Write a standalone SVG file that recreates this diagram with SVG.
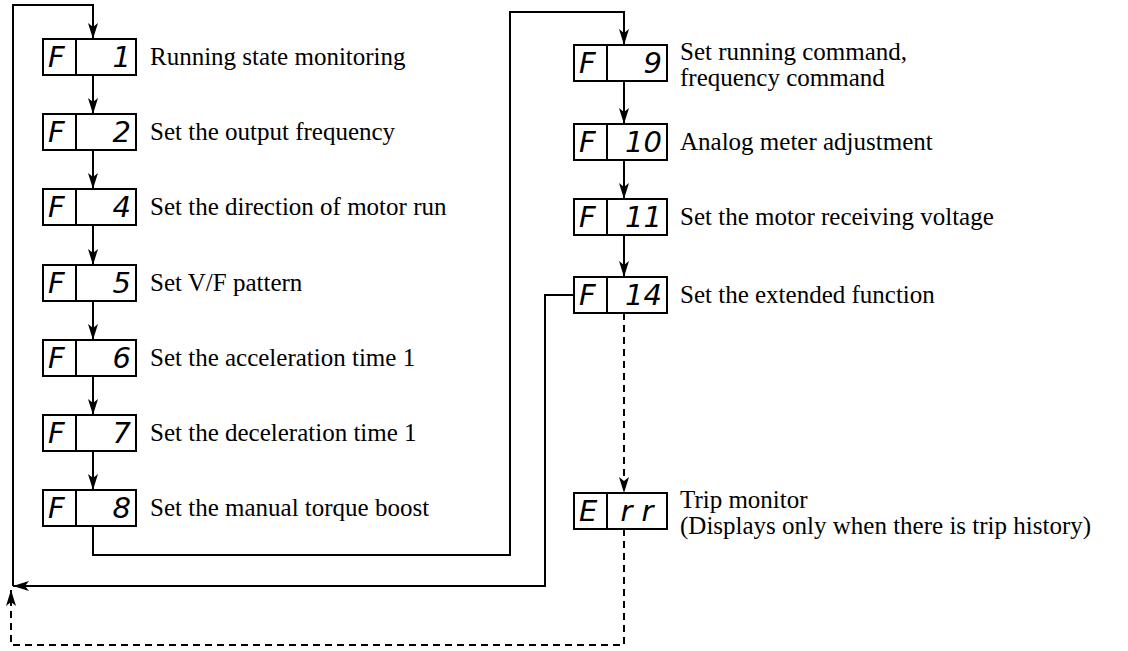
<svg xmlns="http://www.w3.org/2000/svg" width="1128" height="651" viewBox="0 0 1128 651">
<style>
.bx{fill:#fff;stroke:#000;stroke-width:2}
.dv{stroke:#000;stroke-width:2}
.seg{font-family:"DejaVu Sans",sans-serif;font-style:italic;font-weight:200;font-size:29px;fill:#000}
.lb{font-family:"Liberation Serif",serif;font-size:25px;fill:#000}
.ln{fill:none;stroke:#000;stroke-width:2}
.dash{fill:none;stroke:#000;stroke-width:2;stroke-dasharray:7 5}
</style>
<defs>
<marker id="ah" viewBox="0 0 16 10" refX="16" refY="5" markerWidth="16" markerHeight="10" orient="auto" markerUnits="userSpaceOnUse"><path d="M0,0 L16,5 L0,10 L4,5 z" fill="#000"/></marker>
</defs>
<rect width="1128" height="651" fill="#fff"/>
<g id="connectors">
<path class="ln" d="M13,586 V5 H93 V39" marker-end="url(#ah)"/>
<path class="ln" d="M93,75 V114" marker-end="url(#ah)"/>
<path class="ln" d="M93,150 V189" marker-end="url(#ah)"/>
<path class="ln" d="M93,225 V265" marker-end="url(#ah)"/>
<path class="ln" d="M93,301 V340" marker-end="url(#ah)"/>
<path class="ln" d="M93,376 V415" marker-end="url(#ah)"/>
<path class="ln" d="M93,451 V490" marker-end="url(#ah)"/>
<path class="ln" d="M93,526 V555 H510 V12 H624 V45" marker-end="url(#ah)"/>
<path class="ln" d="M624,81 V124" marker-end="url(#ah)"/>
<path class="ln" d="M624,160 V199" marker-end="url(#ah)"/>
<path class="ln" d="M624,235 V277" marker-end="url(#ah)"/>
<path class="ln" d="M574,295 H545 V586 H13" marker-end="url(#ah)"/>
<path class="dash" d="M624,313 V493" marker-end="url(#ah)"/>
<path class="dash" d="M624,529 V645 H11 V590" marker-end="url(#ah)"/>
</g>
<g id="node-F1"><rect class="bx" x="43" y="39" width="93" height="36"/><line class="dv" x1="76" y1="39" x2="76" y2="75"/><text class="seg" x="48" y="67">F</text><text class="seg" x="131" y="67" text-anchor="end">1</text><text class="lb" x="150" y="65">Running state monitoring</text></g>
<g id="node-F2"><rect class="bx" x="43" y="114" width="93" height="36"/><line class="dv" x1="76" y1="114" x2="76" y2="150"/><text class="seg" x="48" y="142">F</text><text class="seg" x="131" y="142" text-anchor="end">2</text><text class="lb" x="150" y="140">Set the output frequency</text></g>
<g id="node-F4"><rect class="bx" x="43" y="189" width="93" height="36"/><line class="dv" x1="76" y1="189" x2="76" y2="225"/><text class="seg" x="48" y="217">F</text><text class="seg" x="131" y="217" text-anchor="end">4</text><text class="lb" x="150" y="215">Set the direction of motor run</text></g>
<g id="node-F5"><rect class="bx" x="43" y="265" width="93" height="36"/><line class="dv" x1="76" y1="265" x2="76" y2="301"/><text class="seg" x="48" y="293">F</text><text class="seg" x="131" y="293" text-anchor="end">5</text><text class="lb" x="150" y="291">Set V/F pattern</text></g>
<g id="node-F6"><rect class="bx" x="43" y="340" width="93" height="36"/><line class="dv" x1="76" y1="340" x2="76" y2="376"/><text class="seg" x="48" y="368">F</text><text class="seg" x="131" y="368" text-anchor="end">6</text><text class="lb" x="150" y="366">Set the acceleration time 1</text></g>
<g id="node-F7"><rect class="bx" x="43" y="415" width="93" height="36"/><line class="dv" x1="76" y1="415" x2="76" y2="451"/><text class="seg" x="48" y="443">F</text><text class="seg" x="131" y="443" text-anchor="end">7</text><text class="lb" x="150" y="441">Set the deceleration time 1</text></g>
<g id="node-F8"><rect class="bx" x="43" y="490" width="93" height="36"/><line class="dv" x1="76" y1="490" x2="76" y2="526"/><text class="seg" x="48" y="518">F</text><text class="seg" x="131" y="518" text-anchor="end">8</text><text class="lb" x="150" y="516">Set the manual torque boost</text></g>
<g id="node-F9"><rect class="bx" x="574" y="45" width="93" height="36"/><line class="dv" x1="607" y1="45" x2="607" y2="81"/><text class="seg" x="579" y="73">F</text><text class="seg" x="662" y="73" text-anchor="end">9</text><text class="lb" x="680" y="60">Set running command,</text><text class="lb" x="680" y="86">frequency command</text></g>
<g id="node-F10"><rect class="bx" x="574" y="124" width="93" height="36"/><line class="dv" x1="607" y1="124" x2="607" y2="160"/><text class="seg" x="579" y="152">F</text><text class="seg" x="662" y="152" text-anchor="end">10</text><text class="lb" x="680" y="150">Analog meter adjustment</text></g>
<g id="node-F11"><rect class="bx" x="574" y="199" width="93" height="36"/><line class="dv" x1="607" y1="199" x2="607" y2="235"/><text class="seg" x="579" y="227">F</text><text class="seg" x="662" y="227" text-anchor="end">11</text><text class="lb" x="680" y="225">Set the motor receiving voltage</text></g>
<g id="node-F14"><rect class="bx" x="574" y="277" width="93" height="36"/><line class="dv" x1="607" y1="277" x2="607" y2="313"/><text class="seg" x="579" y="305">F</text><text class="seg" x="662" y="305" text-anchor="end">14</text><text class="lb" x="680" y="303">Set the extended function</text></g>
<g id="node-Err"><rect class="bx" x="574" y="493" width="93" height="36"/><line class="dv" x1="607" y1="493" x2="607" y2="529"/><text class="seg" x="579" y="521">E</text><text class="seg" x="637" y="521" text-anchor="middle">r r</text><text class="lb" x="680" y="508">Trip monitor</text><text class="lb" x="680" y="534">(Displays only when there is trip history)</text></g>
</svg>
